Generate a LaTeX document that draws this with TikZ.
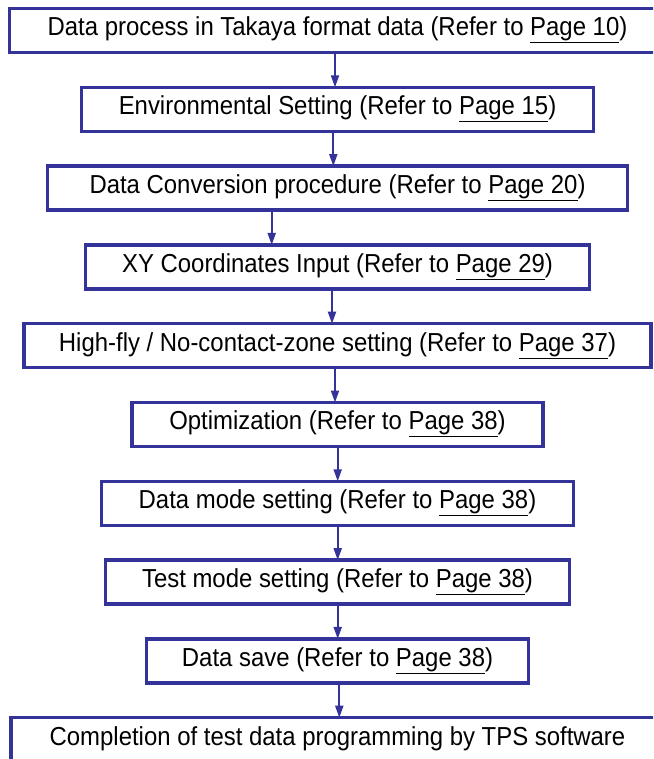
\documentclass[tikz,border=0pt]{standalone}
\usepackage{fontspec}
\setmainfont[FakeStretch=0.92]{Liberation Sans}
\definecolor{flowblue}{RGB}{51,51,153}
\usetikzlibrary{positioning,arrows.meta}
\newcommand{\referto}[1]{(Refer to \underline{Page #1})}

\begin{document}
\begin{tikzpicture}[x=1pt,y=-1pt,
    procbox/.style={draw=flowblue, line width=3.5pt, minimum height=44pt,
      inner sep=0pt, outer sep=0pt, text height=17pt, text depth=6.4pt,
      font=\fontsize{26}{30}\selectfont},
    flowarrow/.style={draw=flowblue, line width=2pt,
      -{Triangle[length=12pt,width=8pt]}},
    node distance=34.8pt]
  \clip (0,0) rectangle (653,759);
  % steps, top to bottom
  \node[procbox, minimum width=656pt] (b1) at (337.5,30.5)
    {Data process in Takaya format data \referto{10}};
  \node[procbox, minimum width=512pt, below=of b1] (b2)
    {Environmental Setting \referto{15}};
  \node[procbox, minimum width=580pt, below=of b2] (b3)
    {Data Conversion procedure \referto{20}};
  \node[procbox, minimum width=504pt, below=of b3] (b4)
    {XY Coordinates Input \referto{29}};
  \node[procbox, minimum width=627pt, below=of b4] (b5)
    {High-fly / No-contact-zone setting \referto{37}};
  \node[procbox, minimum width=411pt, below=of b5] (b6)
    {Optimization \referto{38}};
  \node[procbox, minimum width=472pt, below=of b6] (b7)
    {Data mode setting \referto{38}};
  \node[procbox, minimum width=464pt, below=of b7] (b8)
    {Test mode setting \referto{38}};
  \node[procbox, minimum width=382pt, below=of b8] (b9)
    {Data save \referto{38}};
  \node[procbox, minimum width=653pt, below=of b9] (b10)
    {Completion of test data programming by TPS software};
  % arrows
  \foreach \from/\to/\dx in {b1/b2/-2.5, b2/b3/-4.2, b3/b4/-65.8, b4/b5/-5.5,
      b5/b6/-2.5, b6/b7/0.2, b7/b8/0.2, b8/b9/0.2, b9/b10/1.8}
    \draw[flowarrow] ([xshift=\dx pt]\from.south) -- ([xshift=\dx pt]\to.north);
\end{tikzpicture}
\end{document}
